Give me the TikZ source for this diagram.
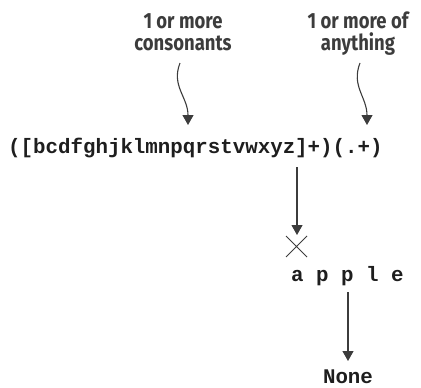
\documentclass[tikz,border=0pt]{standalone}
\usepackage{fontspec}
\newfontfamily\labfont[FakeStretch=0.84]{Fira Sans}
\newfontfamily\codefont{Liberation Mono}
\usetikzlibrary{arrows.meta}
\definecolor{ink}{HTML}{3C3C3C}
\definecolor{codeink}{HTML}{1E1E1E}
\begin{document}
\begin{tikzpicture}[x=1pt,y=-1pt,
  lab/.style={font=\labfont\bfseries\fontsize{22}{22}\selectfont, text=ink, align=center, inner sep=0pt, anchor=base},
  code/.style={font=\codefont\bfseries\fontsize{20.8}{24}\selectfont, text=codeink, inner sep=0pt},
  arr/.style={draw=ink, line width=1.1pt, -{Triangle[length=10pt,width=11pt]}},
  cross/.style={draw=ink, line width=0.9pt}]
\useasboundingbox (0,0) rectangle (421,388);
% labels (anchor = baseline of the last line)
\node[lab] (l1) at (183,50) {1 or more\\consonants};
\node[lab] (l2) at (358,50) {1 or more of\\anything};
% code lines
\node[code, anchor=base west] (rx) at (8,153) {([bcdfghjklmnpqrstvwxyz]+)(.+)};
\node[code, anchor=base west] (ap) at (291,281) {a p p l e};
\node[code, anchor=base] (none) at (348,383) {None};
% connector ends
\coordinate (s1) at (180,63);
\coordinate (t1) at (188,125);
\coordinate (s2) at (360,63);
\coordinate (t2) at (367,125);
\coordinate (s3) at (297,167);
\coordinate (t3) at (297,235);
\coordinate (s4) at (348,292);
\coordinate (t4) at (348,361);
% squiggly arrows
\draw[arr] (s1) .. controls (171,86) and (188,97) .. (t1);
\draw[arr] (s2) .. controls (351,86) and (367,97) .. (t2);
% straight arrows
\draw[arr] (s3) -- (t3);
\draw[arr] (s4) -- (t4);
% cross
\coordinate (x) at (296.5,246.5);
\draw[cross] ([shift={(-10.5,-10.5)}]x) -- ([shift={(10.5,10.5)}]x)
             ([shift={(-10.5,10.5)}]x) -- ([shift={(10.5,-10.5)}]x);
\end{tikzpicture}
\end{document}
